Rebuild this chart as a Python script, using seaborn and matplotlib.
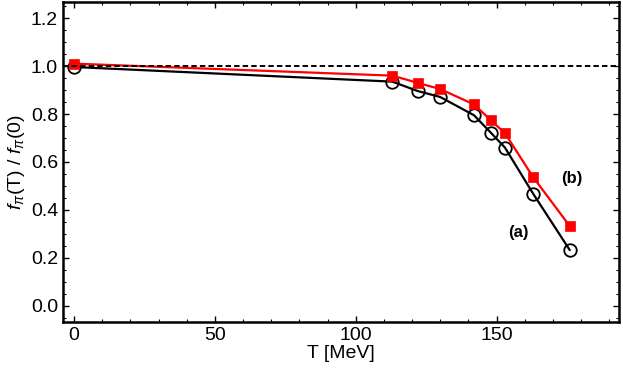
import numpy as np
import pandas as pd
import matplotlib
matplotlib.use("Agg")
import matplotlib.pyplot as plt
import seaborn as sns
from matplotlib.ticker import MultipleLocator

sns.set_style("ticks")
plt.rcParams['font.family'] = ['Liberation Sans', 'DejaVu Sans']
plt.rcParams['mathtext.fontset'] = 'custom'
plt.rcParams['mathtext.it'] = 'Liberation Sans:italic'
plt.rcParams['mathtext.rm'] = 'Liberation Sans'
plt.rcParams.update({'text.color': 'black', 'axes.labelcolor': 'black',
                     'xtick.color': 'black', 'ytick.color': 'black',
                     'axes.edgecolor': 'black'})

# data
T = [0, 113, 122, 130, 142, 148, 153, 163, 176]
ratio_a = [0.996, 0.935, 0.896, 0.871, 0.795, 0.722, 0.660, 0.468, 0.233]
ratio_b = [1.010, 0.960, 0.930, 0.904, 0.840, 0.774, 0.720, 0.537, 0.333]

df = pd.DataFrame({'T': T, 'a': ratio_a, 'b': ratio_b})

fig = plt.figure(figsize=(6.23, 3.74), dpi=100)
ax = fig.add_axes([0.101, 0.139, 0.8926, 0.8557])

sns.lineplot(data=df, x='T', y='a', ax=ax, color='black', lw=1.6,
             marker='o', markersize=9, markerfacecolor='none',
             markeredgecolor='black', markeredgewidth=1.3, zorder=3)
sns.lineplot(data=df, x='T', y='b', ax=ax, color='red', lw=1.6,
             marker='s', markersize=7.5, markerfacecolor='red',
             markeredgecolor='red', markeredgewidth=0.5, zorder=4)
ax.axhline(1.0, color='black', ls=(0, (2.8, 1.6)), lw=1.4, zorder=5)

ax.text(176.7, 0.532, '(b)', fontsize=12, fontweight='bold', ha='center', va='center')
ax.text(157.7, 0.305, '(a)', fontsize=12, fontweight='bold', ha='center', va='center')

ax.set_xlim(-3.95, 193.5)
ax.set_ylim(-0.067, 1.267)
ax.xaxis.set_major_locator(MultipleLocator(50))
ax.xaxis.set_minor_locator(MultipleLocator(10))
ax.yaxis.set_major_locator(MultipleLocator(0.2))
ax.yaxis.set_minor_locator(MultipleLocator(0.05))
ax.yaxis.set_major_formatter(matplotlib.ticker.FormatStrFormatter('%.1f'))
ax.tick_params(which='both', direction='in', top=True, right=True, labelsize=14)
ax.tick_params(which='major', length=4, width=1)
ax.tick_params(which='minor', length=2, width=0.8)
for s in ax.spines.values():
    s.set_linewidth(1.8)

ax.set_xlabel('T [MeV]', fontsize=14, labelpad=1)
ax.set_ylabel(r'$f_\pi$(T) / $f_\pi$(0)', fontsize=14, labelpad=3)

fig.savefig('out.png', dpi=100)
